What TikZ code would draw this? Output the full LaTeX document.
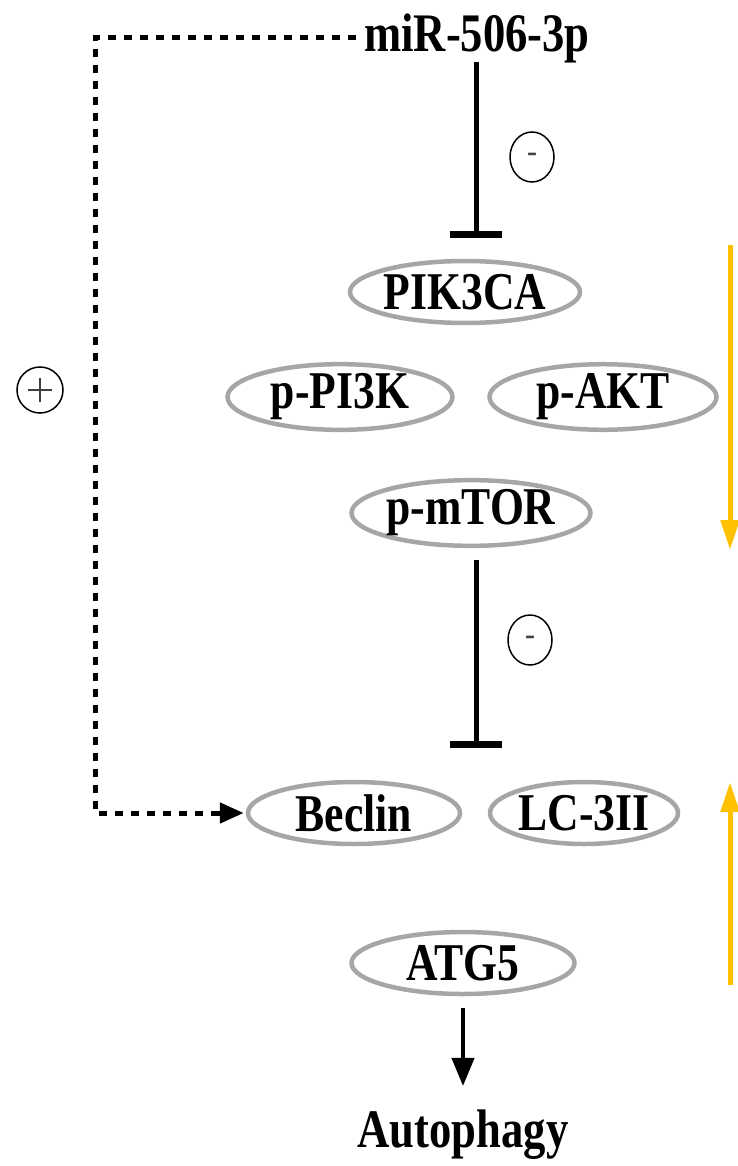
\documentclass[tikz,border=0pt]{standalone}
\usepackage{fontspec}
\setmainfont{Liberation Serif}
\usetikzlibrary{shapes.geometric,arrows.meta}
\definecolor{ringgray}{HTML}{A6A6A6}
\definecolor{gold}{HTML}{FFC000}
\newcommand{\tallbf}[1]{\scalebox{0.97}[1.18]{#1}}
\tikzset{
  prot/.style={ellipse, draw=ringgray, line width=4.5pt, minimum width=#1, minimum height=62pt, inner sep=0pt, font=\fontsize{45}{45}\selectfont\bfseries},
  lbl/.style={inner sep=0pt, font=\fontsize{46}{46}\selectfont\bfseries},
  inhib/.style={line width=5pt, -{Bar[width=52pt,line width=7pt]}},
  dashedlink/.style={line width=5pt, dash pattern=on 8pt off 8pt},
  sign/.style={ellipse, draw, line width=1.5pt, minimum width=44pt, minimum height=50pt, inner sep=0pt},
  goldarrow/.style={draw=gold, line width=5pt, -{Triangle[width=18pt,length=30pt]}},
}
\begin{document}
\begin{tikzpicture}[x=1pt,y=-1pt]
\useasboundingbox (0,0) rectangle (738,1166);
\node[lbl] (mir) at (477,38) {\tallbf{miR-506-3p}};
\node[prot=230pt] (pik) at (465,292) {\tallbf{PIK3CA}};
\node[prot=225pt] (pi3k) at (340,397) {\tallbf{p-PI3K}};
\node[prot=227pt] (akt) at (603,397) {\tallbf{p-AKT}};
\node[prot=222pt] (mtor) at (471,513) {\tallbf{p-mTOR}};
\node[prot=212pt] (beclin) at (354,813) {\tallbf{Beclin}};
\node[prot=188pt] (lc3) at (584,813) {\tallbf{LC-3II}};
\node[prot=223pt] (atg) at (463,963) {\tallbf{ATG5}};
\node[lbl] (auto) at (463,1135) {\tallbf{Autophagy}};

\coordinate (i1s) at (476,62);
\coordinate (i1e) at (476,238);
\draw[inhib] (i1s) -- (i1e);
\node[sign] (m1) at (532,157) {\fontsize{30}{30}\selectfont\bfseries\color{black!75}-};
\coordinate (i2s) at (476,560);
\coordinate (i2e) at (476,748);
\draw[inhib] (i2s) -- (i2e);
\node[sign] (m2) at (530,640) {\fontsize{30}{30}\selectfont\bfseries\color{black!75}-};

\coordinate (c1) at (95,38);
\coordinate (c2) at (95,813);
\draw[dashedlink] (mir.west) ++(-8,0) coordinate (d0) -- (c1) -- (c2) -- ([xshift=-30pt]beclin.west) coordinate (d3);
\draw[line width=5pt, -{Triangle[width=20pt,length=24pt]}] (d3) -- ([xshift=-2pt]beclin.west);

\node[circle, draw, line width=1.5pt, minimum size=46pt, inner sep=0pt] (plus) at (40,390) {};
\draw[line width=2.5pt, black!75] ([xshift=-12pt]plus.center) -- ([xshift=12pt]plus.center)
  ([yshift=-12pt]plus.center) -- ([yshift=12pt]plus.center);

\draw[line width=4pt, -{Triangle[width=22pt,length=28pt]}] ([yshift=-12pt]atg.south) -- ([yshift=24pt]auto.north);

\coordinate (g1) at (730,245);
\coordinate (g2) at (730,550);
\coordinate (g3) at (730,985);
\coordinate (g4) at (730,782);
\draw[goldarrow] (g1) -- (g2);
\draw[goldarrow] (g3) -- (g4);
\end{tikzpicture}
\end{document}
